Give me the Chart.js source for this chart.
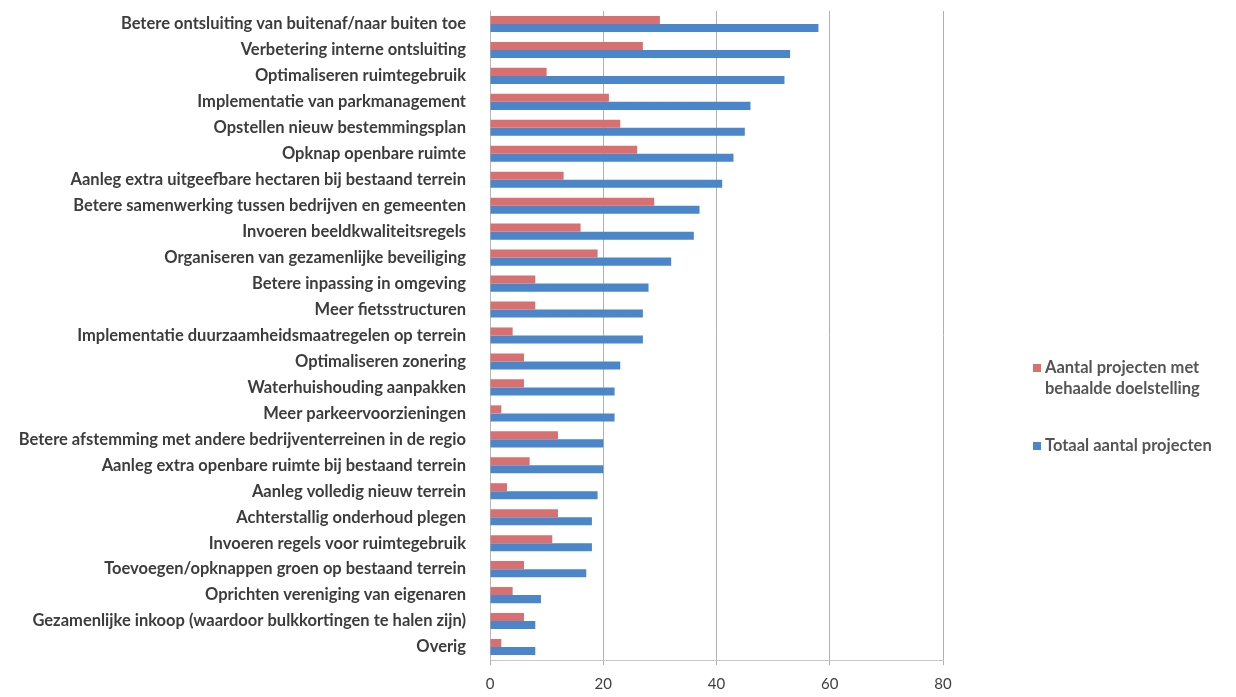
<!DOCTYPE html>
<html>
<head>
<meta charset="utf-8">
<script src="https://cdn.jsdelivr.net/npm/chart.js@4"></script>
<style>
  html, body { margin: 0; padding: 0; background: #fff; }
  #wrap { position: relative; width: 1236px; height: 697px; }
  #legend { position: absolute; left: 1033px; top: 357px; font-family: Lato, sans-serif; font-weight: bold; font-size: 16.5px; color: #555; }
  .item { position: relative; padding-left: 12px; line-height: 21px; }
  .item .sw { position: absolute; left: 0; top: 7px; width: 8px; height: 8px; }
</style>
</head>
<body>
<div id="wrap">
  <canvas id="chart" width="1236" height="697"></canvas>
  <div id="legend"></div>
</div>
<script>
// === DATA ===
const categories = [
  'Betere ontsluiting van buitenaf/naar buiten toe',
  'Verbetering interne ontsluiting',
  'Optimaliseren ruimtegebruik',
  'Implementatie van parkmanagement',
  'Opstellen nieuw bestemmingsplan',
  'Opknap openbare ruimte',
  'Aanleg extra uitgeefbare hectaren bij bestaand terrein',
  'Betere samenwerking tussen bedrijven en gemeenten',
  'Invoeren beeldkwaliteitsregels',
  'Organiseren van gezamenlijke beveiliging',
  'Betere inpassing in omgeving',
  'Meer fietsstructuren',
  'Implementatie duurzaamheidsmaatregelen op terrein',
  'Optimaliseren zonering',
  'Waterhuishouding aanpakken',
  'Meer parkeervoorzieningen',
  'Betere afstemming met andere bedrijventerreinen in de regio',
  'Aanleg extra openbare ruimte bij bestaand terrein',
  'Aanleg volledig nieuw terrein',
  'Achterstallig onderhoud plegen',
  'Invoeren regels voor ruimtegebruik',
  'Toevoegen/opknappen groen op bestaand terrein',
  'Oprichten vereniging van eigenaren',
  'Gezamenlijke inkoop (waardoor bulkkortingen te halen zijn)',
  'Overig'
];
const behaald = [30, 27, 10, 21, 23, 26, 13, 29, 16, 19, 8, 8, 4, 6, 6, 2, 12, 7, 3, 12, 11, 6, 4, 6, 2];
const totaal  = [58, 53, 52, 46, 45, 43, 41, 37, 36, 32, 28, 27, 27, 23, 22, 22, 20, 20, 19, 18, 18, 17, 9, 8, 8];
const seriesNames = ['Aantal projecten met behaalde doelstelling', 'Totaal aantal projecten'];
const legendLines = [['Aantal projecten met', 'behaalde doelstelling'], ['Totaal aantal projecten']];
const colors = ['#d86f70', '#4a86c9'];

// === CHART ===
const chart = new Chart(document.getElementById('chart'), {
  type: 'bar',
  data: {
    labels: categories,
    datasets: [
      { label: seriesNames[0], data: behaald, backgroundColor: colors[0] },
      { label: seriesNames[1], data: totaal, backgroundColor: colors[1] }
    ]
  },
  options: {
    indexAxis: 'y',
    responsive: false,
    animation: false,
    layout: { padding: { top: 11, right: 293, bottom: 0, left: 0 } },
    datasets: { bar: { categoryPercentage: 0.62, barPercentage: 1.0 } },
    scales: {
      x: {
        min: 0, max: 80,
        ticks: { stepSize: 20, color: '#404040', font: { family: 'Lato', size: 15 }, padding: 10 },
        grid: { color: '#b0b0b0', tickLength: 5 },
        border: { color: '#c8c8c8' },
        afterFit: s => { s.height = 37; }
      },
      y: {
        ticks: { color: '#3c3c3c', font: { family: 'Lato', size: 16.5, weight: 'bold' }, padding: 16, autoSkip: false },
        grid: { display: false },
        border: { color: '#b8b8b8' },
        afterFit: s => { s.width = 490; s.paddingTop = 0; s.paddingBottom = 0; }
      }
    },
    plugins: {
      legend: { display: false },
      tooltip: { enabled: false }
    }
  }
});

// === LEGEND ===
const legendEl = document.getElementById('legend');
legendLines.forEach((lines, i) => {
  const div = document.createElement('div');
  div.className = 'item';
  div.style.marginBottom = i === 0 ? '36px' : '0';
  div.innerHTML = '<span class="sw" style="background:' + colors[i] + '"></span>' + lines.join('<br>');
  legendEl.appendChild(div);
});
</script>
</body>
</html>
